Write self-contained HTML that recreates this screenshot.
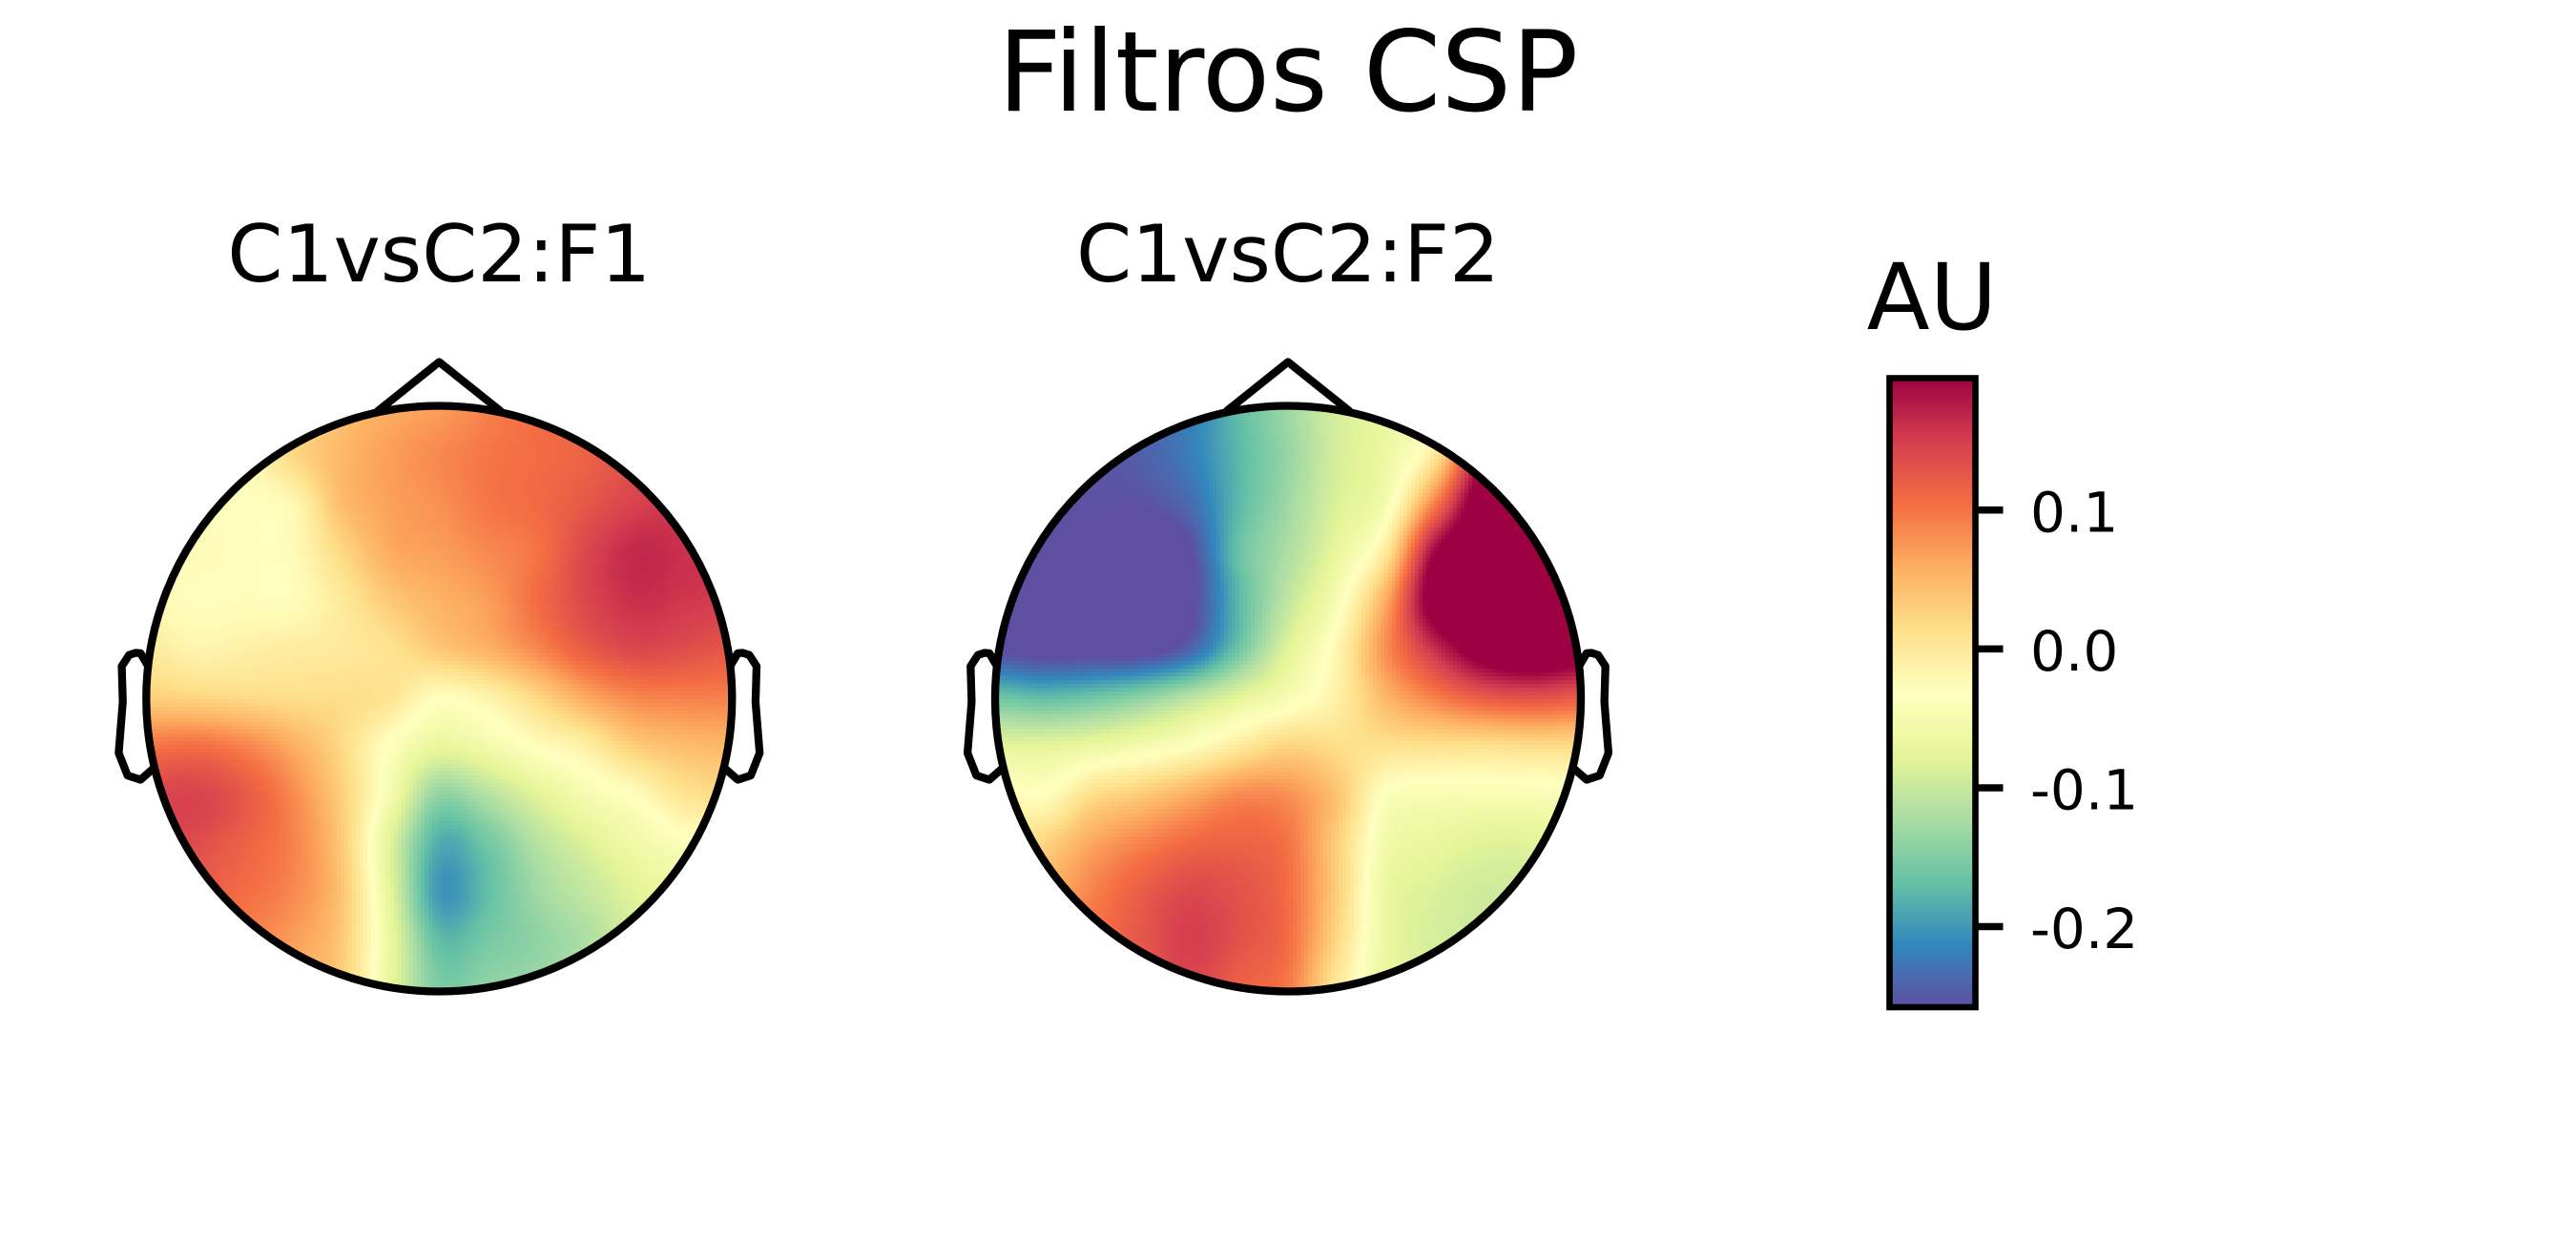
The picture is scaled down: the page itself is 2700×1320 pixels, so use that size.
<!DOCTYPE html>
<html>
<head>
<meta charset="utf-8">
<title>Filtros CSP</title>
<style>
html,body{margin:0;padding:0;background:#fff;width:2700px;height:1320px;overflow:hidden}
svg{display:block}
text{font-family:"DejaVu Sans","Liberation Sans",sans-serif;fill:#000}
</style>
</head>
<body>
<svg id="chart" xmlns="http://www.w3.org/2000/svg" width="2700" height="1320" viewBox="0 0 2700 1320">
  <defs>
    <clipPath id="clip-f1"><circle cx="460.3" cy="732.5" r="307"/></clipPath>
    <clipPath id="clip-f2"><circle cx="1350" cy="732.5" r="307"/></clipPath>
  </defs>
  <text x="1350" y="116" font-size="116.5" text-anchor="middle">Filtros CSP</text>
  <text x="460.3" y="295" font-size="83.3" text-anchor="middle">C1vsC2:F1</text>
  <text x="1350" y="295" font-size="83.3" text-anchor="middle">C1vsC2:F2</text>
  <g id="cells-f1" clip-path="url(#clip-f1)"></g>
  <g id="cells-f2" clip-path="url(#clip-f2)"></g>
  <g id="head-f1" transform="translate(460.3 732.5)" fill="none" stroke="#000" stroke-width="8.3" stroke-linejoin="round" stroke-linecap="butt">
    <circle r="307"/>
    <polyline points="-65,-301 0,-353 65,-301"/>
    <polyline points="-305,-34 -313,-47.6 -318,-48 -325,-45.8 -332.7,-34 -331.6,3.4 -335.9,57 -326.6,80.6 -313,85 -300,73.6"/>
    <polyline points="305,-34 313,-47.6 318,-48 325,-45.8 332.7,-34 331.6,3.4 335.9,57 326.6,80.6 313,85 300,73.6"/>
  </g>
  <g id="head-f2" transform="translate(1350 732.5)" fill="none" stroke="#000" stroke-width="8.3" stroke-linejoin="round" stroke-linecap="butt">
    <circle r="307"/>
    <polyline points="-65,-301 0,-353 65,-301"/>
    <polyline points="-305,-34 -313,-47.6 -318,-48 -325,-45.8 -332.7,-34 -331.6,3.4 -335.9,57 -326.6,80.6 -313,85 -300,73.6"/>
    <polyline points="305,-34 313,-47.6 318,-48 325,-45.8 332.7,-34 331.6,3.4 335.9,57 326.6,80.6 313,85 300,73.6"/>
  </g>
  <text x="2025" y="345" font-size="96.5" text-anchor="middle">AU</text>
  <g id="colorbar-cells"></g>
  <rect x="1980.5" y="396.5" width="90" height="659.5" fill="none" stroke="#000" stroke-width="6.6"/>
  <g id="colorbar-ticks"></g>
</svg>
<script>
const vmin = -0.258;
const vmax = 0.195;
const colorbarTicks = [0.1, 0, -0.1, -0.2];
const colorbarLabels = ['0.1', '0.0', '-0.1', '-0.2'];
const spectralStops = ['#5e4fa2','#3288bd','#66c2a5','#abdda4','#e6f598','#ffffbf','#fee08b','#fdae61','#f46d43','#d53e4f','#9e0142'];
const topoF1 = [
[-.03,-.03,-.03,.0,.04,.06,.07,.09,.105,.115,.12,.125,.13],
[-.03,-.03,-.03,.02,.05,.07,.085,.098,.106,.115,.13,.135,.14],
[-.03,-.03,-.03,-.02,.045,.068,.08,.098,.108,.125,.145,.155,.15],
[-.03,-.025,-.03,-.025,.02,.06,.07,.085,.1,.14,.165,.16,.155],
[-.02,-.03,-.028,-.028,0,.035,.055,.07,.105,.14,.16,.155,.15],
[0,-.015,-.01,-.005,0,.01,.035,.055,.085,.12,.14,.135,.125],
[.03,.025,.02,.015,.015,.005,-.03,-.015,.02,.06,.085,.09,.09],
[.10,.105,.09,.06,.02,-.035,-.07,-.055,-.03,-.01,.03,.045,.05],
[.14,.145,.125,.085,.03,-.05,-.14,-.115,-.08,-.05,-.03,.005,.015],
[.14,.135,.115,.09,.035,-.08,-.185,-.16,-.115,-.085,-.06,-.04,-.03],
[.13,.12,.105,.085,.04,-.075,-.2,-.17,-.13,-.105,-.08,-.065,-.06],
[.11,.1,.09,.07,.035,-.065,-.17,-.155,-.14,-.12,-.09,-.07,-.06],
[.1,.09,.08,.06,.03,-.07,-.15,-.14,-.13,-.11,-.085,-.07,-.06]
];
const topoF2 = [
[-.26,-.26,-.25,-.245,-.22,-.17,-.13,-.09,-.07,-.035,.1,.22,.22],
[-.26,-.26,-.256,-.245,-.22,-.175,-.135,-.09,-.065,0,.18,.23,.22],
[-.26,-.26,-.256,-.256,-.235,-.175,-.13,-.085,-.05,.09,.23,.23,.22],
[-.26,-.26,-.27,-.28,-.26,-.165,-.12,-.07,0,.19,.24,.24,.23],
[-.26,-.27,-.28,-.28,-.265,-.175,-.105,-.045,.06,.22,.25,.25,.23],
[-.26,-.27,-.27,-.27,-.24,-.16,-.08,-.02,.08,.16,.22,.24,.22],
[-.16,-.17,-.16,-.14,-.11,-.075,-.045,-.01,.05,.09,.12,.13,.12],
[-.075,-.075,-.065,-.05,-.03,0,.025,.015,.01,.01,.01,.015,.015],
[-.02,-.03,.015,.035,.06,.085,.08,.04,-.035,-.045,-.045,-.045,-.04],
[0,.025,.065,.09,.11,.115,.1,.03,-.055,-.07,-.08,-.08,-.07],
[.02,.05,.09,.12,.14,.13,.105,.03,-.065,-.085,-.095,-.095,-.09],
[.03,.06,.1,.125,.15,.13,.105,.02,-.065,-.09,-.095,-.095,-.09],
[.03,.06,.1,.12,.14,.115,.095,0,-.065,-.09,-.095,-.095,-.09]
];

const SVGNS = 'http://www.w3.org/2000/svg';
const HEAD_R = 307, HEAD_CY = 732.5, CELL = 4;
const CB_TOP = 396.5, CB_BOTTOM = 1056, CB_LEFT = 1980.5, CB_RIGHT = 2070.5;

function hexToRgb(h) {
  return [parseInt(h.slice(1, 3), 16), parseInt(h.slice(3, 5), 16), parseInt(h.slice(5, 7), 16)];
}
const stopRgb = spectralStops.map(hexToRgb);

function colorOf(v) {
  let t = (v - vmin) / (vmax - vmin);
  t = Math.max(0, Math.min(1, t));
  const p = t * (stopRgb.length - 1);
  const i = Math.min(stopRgb.length - 2, Math.floor(p));
  const f = p - i;
  const a = stopRgb[i], b = stopRgb[i + 1];
  return 'rgb(' + Math.round(a[0] + (b[0] - a[0]) * f) + ',' +
                  Math.round(a[1] + (b[1] - a[1]) * f) + ',' +
                  Math.round(a[2] + (b[2] - a[2]) * f) + ')';
}
function cubic(p0, p1, p2, p3, t) {
  return p1 + 0.5 * t * (p2 - p0 + t * (2 * p0 - 5 * p1 + 4 * p2 - p3 + t * (3 * (p1 - p2) + p3 - p0)));
}
function sample(grid, u, v) {
  const n = grid.length - 1, m = grid[0].length - 1;
  const gy = Math.max(0, Math.min(n, v * n));
  const gx = Math.max(0, Math.min(m, u * m));
  const r = Math.min(n - 1, Math.floor(gy)), c = Math.min(m - 1, Math.floor(gx));
  const fy = gy - r, fx = gx - c;
  const rows = [];
  for (let k = -1; k <= 2; k++) {
    const row = grid[Math.max(0, Math.min(n, r + k))];
    rows.push(cubic(row[Math.max(0, c - 1)], row[c], row[c + 1], row[Math.min(m, c + 2)], fx));
  }
  return cubic(rows[0], rows[1], rows[2], rows[3], fy);
}
function drawTopomap(groupId, grid, cx) {
  const g = document.getElementById(groupId);
  const frag = document.createDocumentFragment();
  const left = Math.floor(cx - HEAD_R), top = Math.floor(HEAD_CY - HEAD_R), size = 2 * HEAD_R;
  for (let py = 0; py < size + CELL; py += CELL) {
    for (let px = 0; px < size + CELL; px += CELL) {
      const mx = px + CELL / 2 - HEAD_R, my = py + CELL / 2 - HEAD_R;
      if (mx * mx + my * my > (HEAD_R + CELL) * (HEAD_R + CELL)) continue;
      const value = sample(grid, (px + CELL / 2) / size, (py + CELL / 2) / size);
      const el = document.createElementNS(SVGNS, 'rect');
      
      
      el.setAttribute('x', left + px);
      el.setAttribute('y', top + py);
      el.setAttribute('width', CELL);
      el.setAttribute('height', CELL);
      el.setAttribute('fill', colorOf(value));
      el.setAttribute('shape-rendering', 'crispEdges');
      frag.appendChild(el);
    }
  }
  g.appendChild(frag);
}
function cbY(v) {
  return CB_BOTTOM - (v - vmin) / (vmax - vmin) * (CB_BOTTOM - CB_TOP);
}
function drawColorbar() {
  const g = document.getElementById('colorbar-cells');
  for (let y = Math.floor(CB_TOP); y < CB_BOTTOM; y += 2) {
    const value = vmax - (y + 1 - CB_TOP) / (CB_BOTTOM - CB_TOP) * (vmax - vmin);
    const el = document.createElementNS(SVGNS, 'rect');
    
    
    el.setAttribute('x', CB_LEFT);
    el.setAttribute('y', y);
    el.setAttribute('width', CB_RIGHT - CB_LEFT);
    el.setAttribute('height', 2);
    el.setAttribute('fill', colorOf(value));
    el.setAttribute('shape-rendering', 'crispEdges');
    g.appendChild(el);
  }
  const axis = document.getElementById('colorbar-ticks');
  colorbarTicks.forEach(function (tick, i) {
    const y = cbY(tick);
    const line = document.createElementNS(SVGNS, 'line');
    
    
    line.setAttribute('x1', CB_RIGHT + 3);
    line.setAttribute('x2', CB_RIGHT + 29);
    line.setAttribute('y1', y);
    line.setAttribute('y2', y);
    line.setAttribute('stroke', '#000');
    line.setAttribute('stroke-width', 7.5);
    axis.appendChild(line);
    const label = document.createElementNS(SVGNS, 'text');
    
    
    label.setAttribute('x', 2128);
    label.setAttribute('y', y + 22.5);
    label.setAttribute('font-size', 58);
    label.textContent = colorbarLabels[i];
    axis.appendChild(label);
  });
}
drawTopomap('cells-f1', topoF1, 460.3);
drawTopomap('cells-f2', topoF2, 1350);
drawColorbar();
</script>
</body>
</html>
